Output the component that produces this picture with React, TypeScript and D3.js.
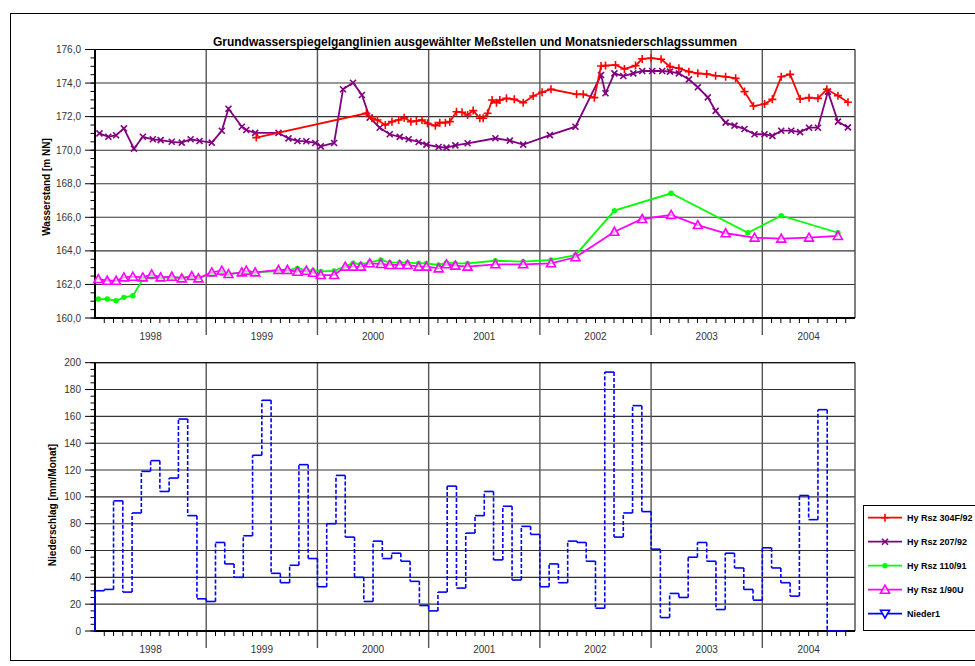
import React, { useEffect, useRef } from 'react';
import * as d3 from 'd3';

// time is given in decimal years
const years = [1998, 1999, 2000, 2001, 2002, 2003, 2004];
const xEnd = 2004 + 10 / 12;

const rsz304F92: [number, number][] = [
  [1999.45, 170.75], [2000.44, 172.2], [2000.49, 171.9], [2000.54, 171.8], [2000.61, 171.5], [2000.67, 171.7],
  [2000.73, 171.8], [2000.78, 171.94], [2000.84, 171.7], [2000.89, 171.74], [2000.94, 171.8], [2000.99, 171.6],
  [2001.06, 171.46], [2001.10, 171.64], [2001.15, 171.64], [2001.19, 171.7], [2001.25, 172.29], [2001.30, 172.26],
  [2001.35, 172.1], [2001.40, 172.36], [2001.46, 171.9], [2001.49, 171.9], [2001.53, 172.2], [2001.57, 172.99],
  [2001.61, 172.83], [2001.64, 172.99], [2001.70, 173.09], [2001.77, 173.03], [2001.85, 172.83], [2001.94, 173.23],
  [2002.02, 173.45], [2002.10, 173.63], [2002.33, 173.33], [2002.39, 173.33], [2002.49, 173.13], [2002.55, 175.02],
  [2002.59, 175.04], [2002.68, 175.08], [2002.76, 174.84], [2002.86, 175.04], [2002.92, 175.44], [2003.00, 175.48],
  [2003.09, 175.42], [2003.17, 174.98], [2003.25, 174.88], [2003.34, 174.68], [2003.42, 174.58], [2003.50, 174.54],
  [2003.58, 174.44], [2003.67, 174.38], [2003.76, 174.28], [2003.84, 173.49], [2003.92, 172.63], [2004.02, 172.75],
  [2004.09, 173.03], [2004.17, 174.38], [2004.25, 174.52], [2004.34, 173.05], [2004.42, 173.13], [2004.50, 173.09],
  [2004.58, 173.63], [2004.68, 173.25], [2004.77, 172.86],
];

const rsz207_92: [number, number][] = [
  [1998.04, 171.0], [1998.12, 170.8], [1998.19, 170.89], [1998.26, 171.3], [1998.35, 170.09], [1998.43, 170.8],
  [1998.52, 170.65], [1998.59, 170.6], [1998.69, 170.5], [1998.78, 170.45], [1998.86, 170.65], [1998.94, 170.55],
  [1999.05, 170.45], [1999.14, 171.16], [1999.20, 172.47], [1999.32, 171.4], [1999.36, 171.2], [1999.44, 171.03],
  [1999.65, 171.03], [1999.74, 170.7], [1999.82, 170.55], [1999.90, 170.53], [1999.98, 170.43], [2000.03, 170.23],
  [2000.15, 170.43], [2000.23, 173.63], [2000.32, 174.02], [2000.40, 173.29], [2000.47, 171.94], [2000.56, 171.34],
  [2000.65, 170.95], [2000.74, 170.79], [2000.82, 170.65], [2000.91, 170.49], [2000.98, 170.33], [2001.09, 170.19],
  [2001.16, 170.15], [2001.24, 170.29], [2001.35, 170.41], [2001.60, 170.71], [2001.73, 170.57], [2001.85, 170.33],
  [2002.09, 170.9], [2002.32, 171.4], [2002.55, 174.48], [2002.59, 173.39], [2002.67, 174.58], [2002.75, 174.42],
  [2002.84, 174.58], [2002.92, 174.72], [2003.01, 174.72], [2003.10, 174.72], [2003.17, 174.68], [2003.25, 174.58],
  [2003.34, 174.22], [2003.42, 173.75], [2003.51, 173.15], [2003.58, 172.34], [2003.67, 171.64], [2003.75, 171.46],
  [2003.84, 171.26], [2003.93, 170.95], [2004.02, 170.95], [2004.09, 170.85], [2004.17, 171.16], [2004.26, 171.16],
  [2004.34, 171.08], [2004.42, 171.34], [2004.50, 171.34], [2004.59, 173.49], [2004.68, 171.7], [2004.77, 171.36],
];

const rsz110_91: [number, number][] = [
  [1998.03, 161.13], [1998.11, 161.13], [1998.19, 161.03], [1998.26, 161.23], [1998.34, 161.33], [1998.43, 162.3],
  [1998.51, 162.45], [1998.59, 162.4], [1998.69, 162.42], [1998.78, 162.4], [1998.87, 162.45], [1998.93, 162.42],
  [1999.05, 162.6], [1999.14, 162.65], [1999.20, 162.62], [1999.32, 162.7], [1999.36, 162.72], [1999.44, 162.72],
  [1999.65, 162.8], [1999.73, 162.85], [1999.82, 162.96], [1999.90, 162.85], [1999.96, 162.82], [2000.03, 162.78],
  [2000.15, 162.8], [2000.25, 163.1], [2000.32, 163.26], [2000.39, 163.2], [2000.47, 163.32], [2000.57, 163.46],
  [2000.65, 163.3], [2000.74, 163.3], [2000.81, 163.3], [2000.91, 163.25], [2000.98, 163.25], [2001.09, 163.16],
  [2001.16, 163.3], [2001.24, 163.25], [2001.35, 163.25], [2001.60, 163.41], [2001.85, 163.36], [2002.10, 163.46],
  [2002.32, 163.75], [2002.67, 166.4], [2003.18, 167.43], [2003.87, 165.08], [2004.17, 166.1], [2004.68, 165.08],
];

const rsz1_90U: [number, number][] = [
  [1998.03, 162.32], [1998.11, 162.22], [1998.19, 162.22], [1998.26, 162.42], [1998.34, 162.46], [1998.43, 162.42],
  [1998.51, 162.6], [1998.59, 162.42], [1998.69, 162.46], [1998.78, 162.36], [1998.87, 162.5], [1998.93, 162.36],
  [1999.05, 162.72], [1999.14, 162.82], [1999.20, 162.62], [1999.32, 162.72], [1999.36, 162.82], [1999.44, 162.72],
  [1999.65, 162.86], [1999.73, 162.86], [1999.82, 162.76], [1999.90, 162.82], [1999.96, 162.7], [2000.03, 162.56],
  [2000.15, 162.56], [2000.25, 163.06], [2000.32, 163.06], [2000.39, 163.06], [2000.47, 163.26], [2000.57, 163.22],
  [2000.65, 163.16], [2000.74, 163.16], [2000.81, 163.16], [2000.91, 163.06], [2000.98, 163.06], [2001.09, 162.96],
  [2001.16, 163.2], [2001.24, 163.12], [2001.35, 163.06], [2001.60, 163.2], [2001.85, 163.2], [2002.10, 163.26],
  [2002.32, 163.62], [2002.67, 165.14], [2002.92, 165.9], [2003.18, 166.14], [2003.42, 165.54], [2003.67, 165.05],
  [2003.93, 164.79], [2004.17, 164.73], [2004.42, 164.79], [2004.68, 164.89],
];

// monthly precipitation from Jan 1998 (mm/Monat)
const nieder1 = [
  30, 31, 97, 29, 88, 119, 127, 104, 114, 158, 86, 24,
  22, 66, 50, 40, 71, 131, 172, 43, 36, 49, 124, 54,
  33, 80, 116, 70, 40, 22, 67, 54, 58, 52, 37, 19,
  15, 29, 108, 32, 73, 86, 104, 53, 93, 38, 78, 72,
  33, 50, 36, 67, 66, 52, 17, 193, 70, 88, 168, 89,
  61, 10, 28, 25, 55, 66, 52, 16, 58, 47, 31, 23,
  62, 47, 36, 26, 101, 83, 165, 0, 0,
];

const legendNames = ['Hy Rsz 304F/92', 'Hy Rsz 207/92', 'Hy Rsz 110/91', 'Hy Rsz 1/90U', 'Nieder1'];
const colors = ['#ff0000', '#800080', '#00ff00', '#ff00ff', '#0000ff'];
const markers = ['plus', 'cross', 'dot', 'tri', 'down'];

const FONT = 'Arial, "Liberation Sans", Helvetica, sans-serif';

const App = () => {
  const ref = useRef<SVGSVGElement>(null);

  useEffect(() => {
    const svg = d3.select(ref.current);
    svg.selectAll('*').remove();

    const left = 95, right = 855;
    const x = d3.scaleLinear().domain([1998, xEnd]).range([left, right]);

    // outer frame
    svg.append('rect')
      .attr('x', 10.5).attr('y', 13.5).attr('width', 980).attr('height', 647)
      .attr('fill', 'white').attr('stroke', '#000').attr('stroke-width', 1);

    svg.append('text')
      .attr('x', 475).attr('y', 46)
      .attr('text-anchor', 'middle')
      .attr('font-family', FONT).attr('font-size', 12).attr('font-weight', 'bold')
      .text('Grundwasserspiegelganglinien ausgewählter Meßstellen und Monatsniederschlagssummen');

    const drawMarker = (g, type, color, cx, cy) => {
      if (type === 'plus') {
        g.append('path').attr('d', `M${cx - 4},${cy}H${cx + 4}M${cx},${cy - 4}V${cy + 4}`)
          .attr('stroke', color).attr('stroke-width', 1.6).attr('fill', 'none');
      } else if (type === 'cross') {
        g.append('path').attr('d', `M${cx - 3},${cy - 3}L${cx + 3},${cy + 3}M${cx - 3},${cy + 3}L${cx + 3},${cy - 3}`)
          .attr('stroke', color).attr('stroke-width', 1.6).attr('fill', 'none');
      } else if (type === 'dot') {
        g.append('circle').attr('cx', cx).attr('cy', cy).attr('r', 2.7).attr('fill', color);
      } else if (type === 'tri') {
        g.append('path').attr('d', `M${cx},${cy - 4.5}L${cx + 4.5},${cy + 3.5}L${cx - 4.5},${cy + 3.5}Z`)
          .attr('stroke', color).attr('stroke-width', 1.6).attr('fill', 'white').attr('fill-opacity', 0.6);
      } else {
        g.append('path').attr('d', `M${cx},${cy + 4.5}L${cx + 4.5},${cy - 3.5}L${cx - 4.5},${cy - 3.5}Z`)
          .attr('stroke', color).attr('stroke-width', 1.6).attr('fill', 'white');
      }
    };

    const drawPanel = (y, major, minor, fmt, title, titleY) => {
      const [y0, y1] = y.range();
      const top = y1, bottom = y0;
      const g = svg.append('g');

      // horizontal grid
      major.forEach(v => {
        g.append('line').attr('x1', left).attr('x2', right).attr('y1', y(v)).attr('y2', y(v))
          .attr('stroke', '#333').attr('stroke-width', 1.1);
      });
      // year lines
      years.slice(1).forEach(yr => {
        g.append('line').attr('x1', x(yr)).attr('x2', x(yr)).attr('y1', top).attr('y2', bottom + 17)
          .attr('stroke', '#555').attr('stroke-width', 1.4);
      });
      // month ticks
      d3.range(1, 82).filter(i => i % 12 !== 0).forEach(i => {
        const xx = x(1998 + i / 12);
        g.append('line').attr('x1', xx).attr('x2', xx).attr('y1', bottom).attr('y2', bottom + 5)
          .attr('stroke', '#000').attr('stroke-width', 1);
      });
      // year labels
      years.forEach(yr => {
        const mid = (x(yr) + x(Math.min(yr + 1, xEnd))) / 2;
        g.append('text').attr('x', mid).attr('y', bottom + 22)
          .attr('text-anchor', 'middle').attr('font-family', FONT).attr('font-size', 10).attr('fill', '#333')
          .text(yr);
      });
      // borders
      g.append('line').attr('x1', right).attr('x2', right).attr('y1', top).attr('y2', bottom)
        .attr('stroke', '#555').attr('stroke-width', 1.5);
      g.append('line').attr('x1', left).attr('x2', right).attr('y1', top).attr('y2', top)
        .attr('stroke', '#000').attr('stroke-width', 1);
      g.append('line').attr('x1', left).attr('x2', left).attr('y1', top).attr('y2', bottom + 1)
        .attr('stroke', '#000').attr('stroke-width', 2);
      g.append('line').attr('x1', left).attr('x2', right).attr('y1', bottom).attr('y2', bottom)
        .attr('stroke', '#000').attr('stroke-width', 2);
      // y ticks
      minor.forEach(v => {
        g.append('line').attr('x1', left - 4.5).attr('x2', left).attr('y1', y(v)).attr('y2', y(v))
          .attr('stroke', '#000').attr('stroke-width', 1);
      });
      major.forEach(v => {
        g.append('line').attr('x1', left - 10).attr('x2', left).attr('y1', y(v)).attr('y2', y(v))
          .attr('stroke', '#000').attr('stroke-width', 1);
        g.append('text').attr('x', left - 14).attr('y', y(v)).attr('dy', '0.35em')
          .attr('text-anchor', 'end').attr('font-family', FONT).attr('font-size', 10).attr('fill', '#333')
          .text(fmt(v));
      });
      // axis title
      g.append('text')
        .attr('transform', `translate(${title === 'Wasserstand [m NN]' ? 50 : 56},${titleY}) rotate(-90)`)
        .attr('text-anchor', 'middle').attr('font-family', FONT).attr('font-size', 10).attr('font-weight', 'bold')
        .text(title);
    };

    // upper panel: water levels
    const yW = d3.scaleLinear().domain([160, 176]).range([318, 49.5]);
    drawPanel(
      yW,
      d3.range(160, 176.1, 2),
      d3.range(160, 176.1, 0.5),
      v => d3.format('.1f')(v).replace('.', ','),
      'Wasserstand [m NN]',
      187
    );

    const series = [rsz207_92, rsz304F92, rsz110_91, rsz1_90U];
    const seriesIdx = [1, 0, 2, 3];
    const line = d3.line<[number, number]>().x(d => x(d[0])).y(d => yW(d[1]));
    series.forEach((data, k) => {
      const i = seriesIdx[k];
      const g = svg.append('g');
      g.append('path').datum(data).attr('d', line)
        .attr('fill', 'none').attr('stroke', colors[i]).attr('stroke-width', 1.8);
      data.forEach(d => drawMarker(g, markers[i], colors[i], x(d[0]), yW(d[1])));
    });

    // lower panel: precipitation
    const yN = d3.scaleLinear().domain([0, 200]).range([631, 362.7]);
    drawPanel(
      yN,
      d3.range(0, 201, 20),
      d3.range(0, 201, 5),
      v => String(v),
      'Niederschlag [mm/Monat]',
      505
    );

    const pg = svg.append('g');
    nieder1.forEach((v, i) => {
      const t0 = 1998 + i / 12, t1 = 1998 + (i + 1) / 12;
      const prev = i === 0 ? 0 : nieder1[i - 1];
      pg.append('line').attr('x1', x(t0)).attr('x2', x(t0)).attr('y1', yN(prev)).attr('y2', yN(v))
        .attr('stroke', colors[4]).attr('stroke-width', 1.6)
        .attr('stroke-dasharray', i === 0 ? null : '4,2');
      pg.append('line').attr('x1', x(t0)).attr('x2', x(t1)).attr('y1', yN(v)).attr('y2', yN(v))
        .attr('stroke', colors[4]).attr('stroke-width', 1.6);
    });

    // legend
    const lg = svg.append('g');
    lg.append('rect').attr('x', 863.5).attr('y', 505.5).attr('width', 130).attr('height', 125)
      .attr('fill', 'white').attr('stroke', '#000').attr('stroke-width', 1);
    legendNames.forEach((name, i) => {
      const ly = 517.7 + i * 24;
      lg.append('line').attr('x1', 868).attr('x2', 902).attr('y1', ly).attr('y2', ly)
        .attr('stroke', colors[i]).attr('stroke-width', 1.8);
      drawMarker(lg, markers[i], colors[i], 885, ly);
      lg.append('text').attr('x', 907).attr('y', ly).attr('dy', '0.35em')
        .attr('font-family', FONT).attr('font-size', 9).attr('font-weight', 'bold')
        .text(name);
    });
  }, []);

  return (
    <svg ref={ref} width={975} height={666}
      style={{ position: 'absolute', left: 0, top: 0, background: 'white' }} />
  );
};

export default App;
